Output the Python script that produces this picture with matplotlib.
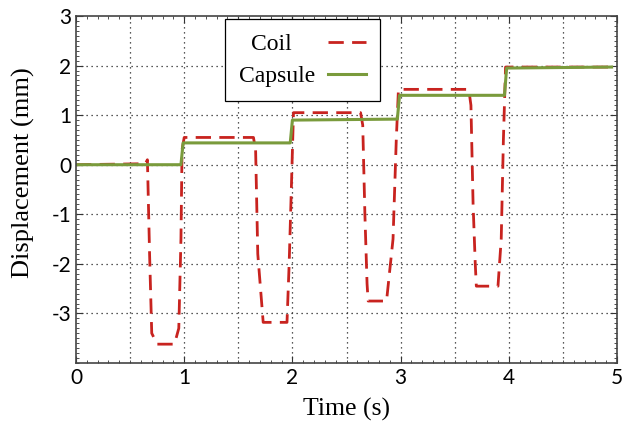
import matplotlib.pyplot as plt
import numpy as np
from matplotlib.ticker import MultipleLocator

plt.rcParams['font.family'] = ['Lato', 'DejaVu Sans']
plt.rcParams['axes.unicode_minus'] = False

# --- dados ---
t_coil = [0.0, 0.64, 0.66, 0.68, 0.70, 0.75, 0.91, 0.95, 0.97, 0.98, 1.00,
          1.64, 1.66, 1.68, 1.72, 1.73, 1.95, 1.97, 1.99, 2.01,
          2.63, 2.65, 2.67, 2.69, 2.70, 2.87, 2.93, 2.96, 2.98,
          3.63, 3.65, 3.67, 3.69, 3.70, 3.90, 3.93, 3.95, 3.97, 4.95]
d_coil = [0.0, 0.02, 0.10, -1.8, -3.4, -3.62, -3.62, -3.3, -1.5, 0.3, 0.55,
          0.55, 0.30, -1.8, -2.9, -3.18, -3.18, -2.0, -0.5, 1.05,
          1.05, 0.8, -1.0, -2.4, -2.75, -2.75, -1.5, 0.5, 1.52,
          1.52, 1.2, -0.8, -2.0, -2.45, -2.45, -1.5, 0.5, 1.97, 1.97]

t_caps = [0.0, 0.97, 0.99, 1.98, 2.00, 2.97, 2.99, 3.96, 3.98, 4.95]
d_caps = [0.0, 0.0, 0.44, 0.44, 0.90, 0.92, 1.40, 1.40, 1.95, 1.97]

x_ticks = [0, 1, 2, 3, 4, 5]
y_ticks = [-3, -2, -1, 0, 1, 2, 3]

fig = plt.figure(figsize=(6.23, 4.23), dpi=100)
ax = fig.add_axes([76/623, 1 - 363/423, 541/623, 347/423])

# rótulo "Coil" com espaços para centralizar na legenda
ax.plot(t_coil, d_coil, color='#c8231f', linewidth=2.0, dashes=(5.5, 3), label='Coil    ')
ax.plot(t_caps, d_caps, color='#7a9b3c', linewidth=2.2, label='Capsule')

ax.set_xlim(0, 5)
ax.set_ylim(-4, 3)
ax.set_xticks(x_ticks)
ax.set_yticks(y_ticks)
ax.xaxis.set_minor_locator(MultipleLocator(0.1))
ax.yaxis.set_minor_locator(MultipleLocator(0.1))
ax.tick_params(which='both', direction='in', top=True, right=True, colors='#333333')
ax.tick_params(which='major', length=5, labelsize=15, labelcolor='black', pad=3.5)
ax.tick_params(which='minor', length=2.5)

# grade pontilhada (verticais a cada 0.5 s)
for xv in np.arange(0.5, 5, 0.5):
    ax.axvline(xv, color='#222222', linestyle=(0, (1, 3)), linewidth=0.9, zorder=0)
for yv in y_ticks[:-1]:
    ax.axhline(yv, color='#222222', linestyle=(0, (1, 3)), linewidth=0.9, zorder=0)

for s in ax.spines.values():
    s.set_color('#444444')
    s.set_linewidth(1.2)

ax.set_xlabel('Time (s)', family='Liberation Serif', fontsize=18.5, labelpad=7)
ax.set_ylabel('Displacement (mm)', family='Liberation Serif', fontsize=19)
ax.yaxis.set_label_coords(-0.076, 0.548)

leg = ax.legend(loc='upper left', bbox_to_anchor=(0.275, 0.991), markerfirst=False,
                prop={'family': 'Liberation Serif', 'size': 17}, fancybox=False,
                edgecolor='black', framealpha=1, handlelength=1.6, handletextpad=0.55,
                borderpad=0.6, labelspacing=0.45, borderaxespad=0)
leg.get_frame().set_linewidth(0.9)

plt.savefig('out.png', dpi=100)
